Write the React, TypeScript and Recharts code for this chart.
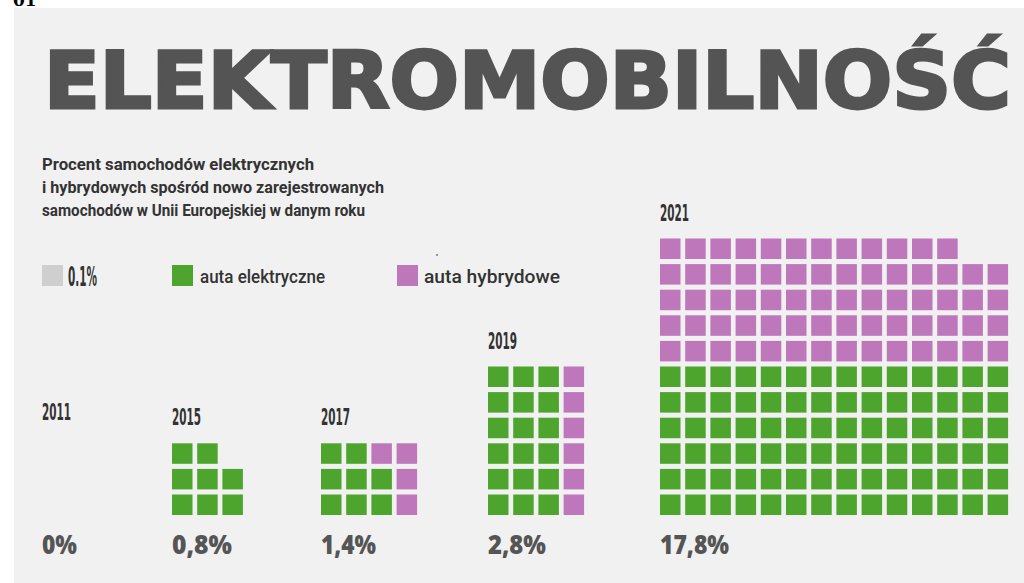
import React from "react";
import { ScatterChart, Scatter, XAxis, YAxis } from "recharts";

const W = 1024;
const H = 583;

// years shown and the headline share printed under each waffle
const years = ["2011", "2015", "2017", "2019", "2021"];
const shareLabels = ["0%", "0,8%", "1,4%", "2,8%", "17,8%"];

// waffle rows as drawn, top row first. E = electric, H = hybrid, . = empty
const waffle2011: string[] = [];
const waffle2015 = ["EE.", "EEE", "EEE"];
const waffle2017 = ["EEHH", "EEEH", "EEEH"];
const waffle2019 = ["EEEH", "EEEH", "EEEH", "EEEH", "EEEH", "EEEH"];
const waffle2021 = [
    "HHHHHHHHHHHH..",
    "HHHHHHHHHHHHHH",
    "HHHHHHHHHHHHHH",
    "HHHHHHHHHHHHHH",
    "HHHHHHHHHHHHHH",
    "EEEEEEEEEEEEEE",
    "EEEEEEEEEEEEEE",
    "EEEEEEEEEEEEEE",
    "EEEEEEEEEEEEEE",
    "EEEEEEEEEEEEEE",
    "EEEEEEEEEEEEEE",
];
const waffles = [waffle2011, waffle2015, waffle2017, waffle2019, waffle2021];

const legendLabels = ["0.1%", "auta elektryczne", "auta hybrydowe"];
const subtitleLines = [
    "Procent samochodów elektrycznych",
    "i hybrydowych spośród nowo zarejestrowanych",
    "samochodów w Unii Europejskiej w danym roku",
];

// colours
const GREEN = "#4ea52e";
const PURPLE = "#bd77ba";
const GREY_CELL = "#cfcfcf";
const PANEL = "#f1f1f1";
const TITLE = "#545454";
const TEXT = "#333333";
const SHARE = "#555555";

// layout
const COL_PITCH = 25.2;
const ROW_PITCH = 25.6;
const CELL = 20.5;
const BOTTOM_CENTER = 504.75;
const groupLeft = [42, 172, 321, 488, 660];

type Pt = { x: number; y: number; year: string };

const electric: Pt[] = [];
const hybrid: Pt[] = [];
waffles.forEach((rows, g) => {
    rows.forEach((row, i) => {
        const r = rows.length - 1 - i;
        row.split("").forEach((c, col) => {
            if (c === ".") return;
            const pt = {
                x: (groupLeft[g] + CELL / 2) / COL_PITCH + col,
                y: (H - BOTTOM_CENTER) / ROW_PITCH + r,
                year: years[g],
            };
            (c === "E" ? electric : hybrid).push(pt);
        });
    });
});

const square = (color: string) => (props: any) =>
    <rect x={props.cx - CELL / 2} y={props.cy - CELL / 2} width={CELL} height={CELL} fill={color} />;

const condensed = "'DejaVu Sans Condensed', 'DejaVu Sans', sans-serif";
const body = "Roboto, 'Noto Sans', sans-serif";

export default function App() {
    return (
        <div style={{ position: "absolute", left: 0, top: 0, width: W, height: H, background: "#fff", overflow: "hidden" }}>
            <div style={{ position: "absolute", left: 14, top: 8, right: 0, bottom: 0, background: PANEL }} />
            <div style={{ position: "absolute", left: 0, top: 0 }}>
                <ScatterChart width={W} height={H} margin={{ top: 0, right: 0, bottom: 0, left: 0 }}>
                    <XAxis type="number" dataKey="x" domain={[0, W / COL_PITCH]} hide allowDataOverflow />
                    <YAxis type="number" dataKey="y" domain={[0, H / ROW_PITCH]} hide allowDataOverflow />
                    <Scatter data={electric} fill={GREEN} shape={square(GREEN)} isAnimationActive={false} />
                    <Scatter data={hybrid} fill={PURPLE} shape={square(PURPLE)} isAnimationActive={false} />
                </ScatterChart>
            </div>
            <svg width={W} height={H} style={{ position: "absolute", left: 0, top: 0, pointerEvents: "none" }}>
                <text x={13} y={6} fontFamily="'DejaVu Serif', serif" fontWeight={700} fontSize={17} fill="#000">01</text>

                <text x={44} y={108} fontFamily="'DejaVu Sans', sans-serif" fontWeight={700} fontSize={78}
                    textLength={967} lengthAdjust="spacingAndGlyphs" fill={TITLE}
                    stroke={TITLE} strokeWidth={3} strokeLinejoin="miter">ELEKTROMOBILNOŚĆ</text>

                {subtitleLines.map((line, i) => (
                    <text key={line} x={42} y={170 + i * 23} fontFamily={body} fontWeight={700} fontSize={17}
                        textLength={[272, 342, 323][i]} lengthAdjust="spacingAndGlyphs" fill={TEXT}>{line}</text>
                ))}

                <circle cx={437} cy={255} r={1} fill="#777" />

                <rect x={42} y={265} width={21} height={21} fill={GREY_CELL} />
                <text x={68} y={286} fontFamily={condensed} fontWeight={700} fontSize={27}
                    textLength={29} lengthAdjust="spacingAndGlyphs" fill={TEXT}>{legendLabels[0]}</text>
                <rect x={172} y={265} width={21} height={21} fill={GREEN} />
                <text x={200} y={283} fontFamily={body} fontWeight={500} fontSize={19}
                    textLength={125} lengthAdjust="spacingAndGlyphs" fill={TEXT}>{legendLabels[1]}</text>
                <rect x={397} y={265} width={21} height={21} fill={PURPLE} />
                <text x={424} y={283} fontFamily={body} fontWeight={500} fontSize={19}
                    textLength={136} lengthAdjust="spacingAndGlyphs" fill={TEXT}>{legendLabels[2]}</text>

                {years.map((year, g) => {
                    const rows = waffles[g].length;
                    const top = BOTTOM_CENTER - (rows - 1) * ROW_PITCH - CELL / 2;
                    const baseline = rows ? top - 18 : 420;
                    return (
                        <text key={year} x={groupLeft[g]} y={baseline} fontFamily={condensed} fontWeight={700}
                            fontSize={23} textLength={29} lengthAdjust="spacingAndGlyphs" fill={TEXT}>{year}</text>
                    );
                })}

                {shareLabels.map((label, g) => (
                    <text key={label} x={groupLeft[g]} y={554} fontFamily="'Open Sans', sans-serif" fontWeight={800}
                        fontSize={27} textLength={[35, 60, 55, 58, 69][g]} lengthAdjust="spacingAndGlyphs"
                        fill={SHARE}>{label}</text>
                ))}
            </svg>
        </div>
    );
}
